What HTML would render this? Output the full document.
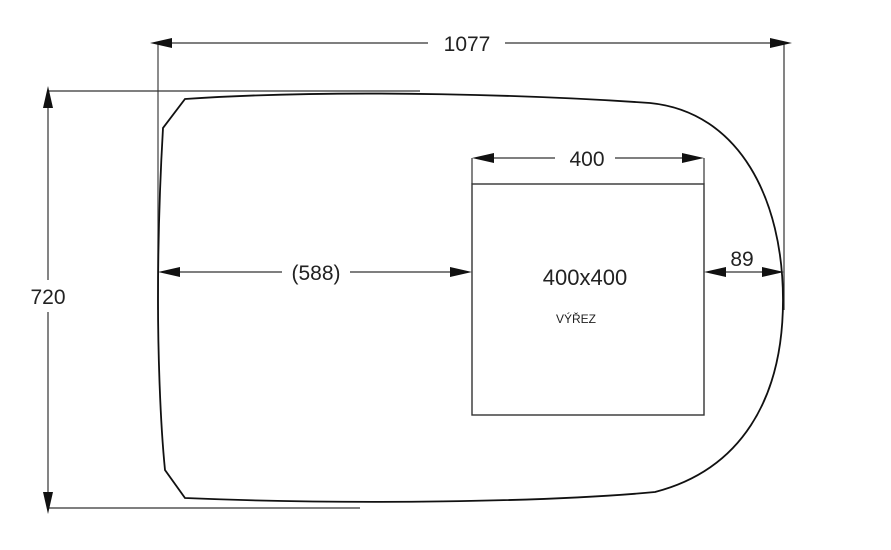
<!DOCTYPE html>
<html><head><meta charset="utf-8"><style>
html,body{margin:0;padding:0;background:#fff;}
svg{display:block;}
text{font-family:"Liberation Sans",sans-serif;fill:#222;}
</style></head><body>
<svg width="891" height="550" viewBox="0 0 891 550" xmlns="http://www.w3.org/2000/svg">
<g stroke="#333" stroke-width="1.2" fill="none">
<line x1="158" y1="43" x2="158" y2="310" stroke="#666" stroke-width="1.5"/>
<line x1="784" y1="43" x2="784" y2="310"/>
<line x1="48" y1="91" x2="420" y2="91"/>
<line x1="48" y1="508" x2="360" y2="508"/>
<line x1="170" y1="43" x2="428" y2="43"/>
<line x1="505" y1="43" x2="772" y2="43"/>
<line x1="48" y1="100" x2="48" y2="280"/>
<line x1="48" y1="312" x2="48" y2="500"/>
<line x1="170" y1="272" x2="282" y2="272"/>
<line x1="350" y1="272" x2="460" y2="272"/>
<line x1="472" y1="158" x2="472" y2="184"/>
<line x1="704" y1="158" x2="704" y2="184"/>
<line x1="484" y1="158" x2="555" y2="158"/>
<line x1="615" y1="158" x2="692" y2="158"/>
<line x1="716" y1="272" x2="772" y2="272"/>
<rect x="472" y="184" width="232" height="231" stroke-width="1.4"/>
<path d="M185,99 C350,88 550,96 650,103 C740,112 783,200 783,300 C783,400 740,470 655,492 C550,502 350,505 185,498 L165,470 C160,420 158,350 158,300 C158,230 160,180 163,128 Z" stroke="#111" stroke-width="1.8"/>
</g>
<g fill="#111">
<polygon points="150,43 172,38 172,48"/>
<polygon points="792,43 770,38 770,48"/>
<polygon points="48,86 43,108 53,108"/>
<polygon points="48,514 43,492 53,492"/>
<polygon points="158,272 180,267 180,277"/>
<polygon points="472,272 450,267 450,277"/>
<polygon points="472,158 494,153 494,163"/>
<polygon points="704,158 682,153 682,163"/>
<polygon points="704,272 726,267 726,277"/>
<polygon points="784,272 762,267 762,277"/>
</g>
<text x="467" y="51" font-size="21" text-anchor="middle">1077</text>
<text x="48" y="304" font-size="21" text-anchor="middle">720</text>
<text x="316" y="280" font-size="21" text-anchor="middle">(588)</text>
<text x="587" y="166" font-size="21" text-anchor="middle">400</text>
<text x="742" y="266" font-size="21" text-anchor="middle">89</text>
<text x="585" y="285" font-size="22" text-anchor="middle">400x400</text>
<text x="576" y="323" font-size="12" text-anchor="middle">VÝŘEZ</text>
</svg>
</body></html>
